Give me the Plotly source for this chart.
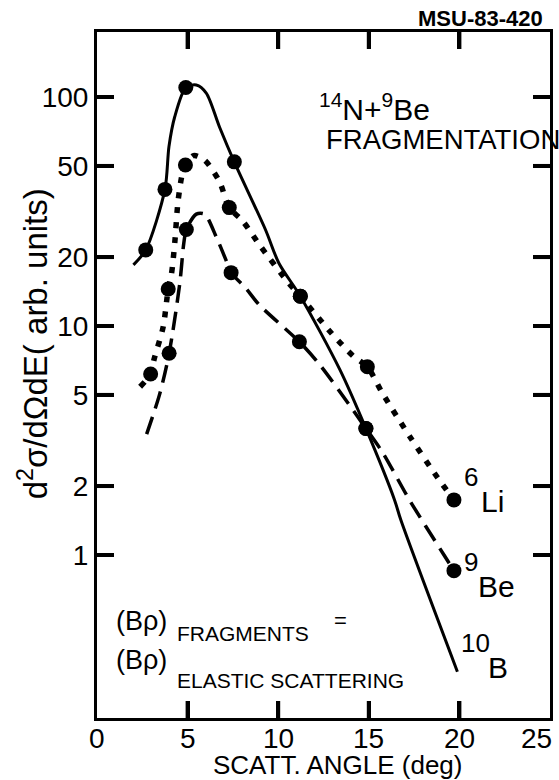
import plotly.graph_objects as go

# Smooth curves (angle in deg, cross section in arb. units)
b10_curve_x = [2.01, 2.69, 3.75, 3.97, 4.29, 4.90, 5.48, 6.03, 6.76, 7.58, 9.31, 10.04, 11.22, 13.41, 14.84, 16.42, 16.77, 19.89]
b10_curve_y = [18.5, 21.5, 39.5, 60.7, 82.0, 110.0, 112.8, 104.0, 74.0, 52.0, 26.2, 18.8, 13.5, 6.43, 3.57, 1.74, 1.42, 0.309]

li6_curve_x = [2.38, 2.96, 3.15, 3.65, 3.93, 4.11, 4.29, 4.47, 4.71, 4.88, 5.33, 5.94, 6.76, 7.30, 8.03, 9.04, 10.55, 11.22, 12.87, 14.14, 14.92, 15.73, 17.24, 18.79, 19.70]
li6_curve_y = [5.43, 6.17, 7.16, 9.9, 14.5, 16.9, 23.0, 34.9, 46.4, 50.5, 55.5, 53.0, 42.7, 32.9, 28.8, 22.2, 15.5, 13.5, 9.44, 7.39, 6.64, 5.12, 3.31, 2.18, 1.74]

be9_curve_x = [2.74, 3.47, 3.98, 4.57, 4.79, 4.93, 5.48, 5.94, 6.58, 7.12, 7.40, 8.22, 8.94, 11.17, 12.23, 13.87, 14.84, 15.79, 17.24, 19.15, 19.70]
be9_curve_y = [3.37, 5.08, 7.6, 15.4, 23.0, 26.4, 30.8, 30.8, 24.5, 19.4, 17.1, 14.6, 12.4, 8.53, 6.87, 4.59, 3.57, 2.78, 1.74, 1.0, 0.854]

# Measured points
b10_pts_x = [2.69, 3.75, 4.90, 7.58, 11.22, 14.84]
b10_pts_y = [21.5, 39.5, 110.0, 52.1, 13.5, 3.57]

li6_pts_x = [2.96, 3.93, 4.88, 7.30, 11.22, 14.92, 19.70]
li6_pts_y = [6.17, 14.5, 50.5, 32.9, 13.5, 6.64, 1.74]

be9_pts_x = [3.98, 4.93, 7.40, 11.17, 14.84, 19.70]
be9_pts_y = [7.6, 26.4, 17.1, 8.53, 3.57, 0.854]

x_ticks = [0, 5, 10, 15, 20, 25]
y_ticks = [1, 2, 5, 10, 20, 50, 100]
y_ticklabels = ["1", "2", "5", "10", "20", "50", "100"]

X_RANGE = [0, 25]
LOGY_RANGE = [-0.712, 2.284]
FONT = "Liberation Sans, Arial, Helvetica, sans-serif"
INK = "#000000"

MARGIN = dict(l=97, r=6, t=32, b=62)
W, H = 559, 780
TICK_LEN = 17  # px

fig = go.Figure()

# inward tick marks on all four sides, converted from pixel length to axis units
plot_w = W - MARGIN["l"] - MARGIN["r"]
plot_h = H - MARGIN["t"] - MARGIN["b"]
dx = TICK_LEN * (X_RANGE[1] - X_RANGE[0]) / plot_w
dlog = TICK_LEN * (LOGY_RANGE[1] - LOGY_RANGE[0]) / plot_h
y_lo, y_hi = 10 ** LOGY_RANGE[0], 10 ** LOGY_RANGE[1]

tx, ty = [], []
for v in y_ticks:
    tx += [X_RANGE[0], X_RANGE[0] + dx, None, X_RANGE[1] - dx, X_RANGE[1], None]
    ty += [v, v, None, v, v, None]
for v in x_ticks[1:-1]:
    tx += [v, v, None, v, v, None]
    ty += [y_lo, 10 ** (LOGY_RANGE[0] + dlog), None, 10 ** (LOGY_RANGE[1] - dlog), y_hi, None]
fig.add_trace(go.Scatter(x=tx, y=ty, mode="lines", line=dict(color=INK, width=4),
                         showlegend=False, hoverinfo="skip"))

fig.add_trace(go.Scatter(x=b10_curve_x, y=b10_curve_y, mode="lines",
                         line=dict(color=INK, width=3, shape="spline", smoothing=0.8),
                         showlegend=False, hoverinfo="skip"))
fig.add_trace(go.Scatter(x=li6_curve_x, y=li6_curve_y, mode="lines",
                         line=dict(color=INK, width=5.5, dash="6px,9px", shape="spline", smoothing=0.8),
                         showlegend=False, hoverinfo="skip"))
fig.add_trace(go.Scatter(x=be9_curve_x, y=be9_curve_y, mode="lines",
                         line=dict(color=INK, width=3.5, dash="18px,9px", shape="spline", smoothing=0.8),
                         showlegend=False, hoverinfo="skip"))

for px, py in [(b10_pts_x, b10_pts_y), (li6_pts_x, li6_pts_y), (be9_pts_x, be9_pts_y)]:
    fig.add_trace(go.Scatter(x=px, y=py, mode="markers",
                             marker=dict(color=INK, size=15),
                             showlegend=False, hoverinfo="skip"))

fig.update_xaxes(range=X_RANGE, showline=True, linewidth=3, linecolor=INK, mirror="allticks",
                 ticks="inside", ticklen=TICK_LEN, tickwidth=4, tickcolor=INK,
                 tickvals=x_ticks, showticklabels=False, showgrid=False, zeroline=False)
fig.update_yaxes(type="log", range=LOGY_RANGE, showline=True, linewidth=3, linecolor=INK,
                 mirror="allticks", ticks="inside", ticklen=TICK_LEN, tickwidth=4, tickcolor=INK,
                 tickvals=y_ticks, ticktext=y_ticklabels,
                 tickfont=dict(family=FONT, size=28, color=INK),
                 showgrid=False, zeroline=False)

ann = []

# x tick labels
for v in x_ticks:
    ann.append(dict(x=v, y=-0.0295, xref="x", yref="paper", text=str(v), showarrow=False,
                    xanchor="center", yanchor="middle", xshift=(-14 if v == X_RANGE[1] else 0),
                    font=dict(family=FONT, size=28, color=INK)))

# axis titles
ann.append(dict(x=0.531, y=-0.0685, xref="paper", yref="paper", text="SCATT. ANGLE (deg)",
                showarrow=False, xanchor="center", yanchor="middle",
                font=dict(family=FONT, size=26, color=INK)))
ann.append(dict(x=-0.141, y=0.545, xref="paper", yref="paper",
                text="d<sup>2</sup>σ/dΩdE( arb. units)", textangle=-90,
                showarrow=False, xanchor="center", yanchor="middle",
                font=dict(family=FONT, size=33, color=INK)))

# figure id
ann.append(dict(x=0.988, y=1.019, xref="paper", yref="paper", text="<b>MSU-83-420</b>",
                showarrow=False, xanchor="right", yanchor="middle",
                font=dict(family=FONT, size=22, color=INK)))

# reaction label
ann.append(dict(x=0.4847, y=0.891, xref="paper", yref="paper",
                text="<sup>14</sup>N+<sup>9</sup>Be", showarrow=False,
                xanchor="left", yanchor="middle", font=dict(family=FONT, size=30, color=INK)))
ann.append(dict(x=0.50, y=0.8426, xref="paper", yref="paper", text="FRAGMENTATION",
                showarrow=False, xanchor="left", yanchor="middle",
                font=dict(family=FONT, size=27.5, color=INK)))

# fragment labels
for txt, x, y, size in [("6", 0.825, 0.3513, 26), ("Li", 0.874, 0.3163, 30),
                        ("9", 0.825, 0.2267, 26), ("Be", 0.883, 0.1917, 30),
                        ("10", 0.8348, 0.110, 26), ("B", 0.8851, 0.0736, 30)]:
    ann.append(dict(x=x, y=y, xref="paper", yref="paper", text=txt, showarrow=False,
                    xanchor="center", yanchor="middle", font=dict(family=FONT, size=size, color=INK)))

# magnetic rigidity condition
for txt, x, y, size, xa in [("(Bρ)", 0.0974, 0.1407, 27, "center"),
                            ("FRAGMENTS", 0.1718, 0.1232, 21, "left"),
                            ("=", 0.537, 0.1414, 22, "center"),
                            ("(Bρ)", 0.0974, 0.0845, 27, "center"),
                            ("ELASTIC SCATTERING", 0.1718, 0.0547, 21, "left")]:
    ann.append(dict(x=x, y=y, xref="paper", yref="paper", text=txt, showarrow=False,
                    xanchor=xa, yanchor="middle", font=dict(family=FONT, size=size, color=INK)))

fig.update_layout(width=W, height=H, margin=MARGIN,
                  paper_bgcolor="white", plot_bgcolor="white", annotations=ann)

fig.write_html("out.html")
